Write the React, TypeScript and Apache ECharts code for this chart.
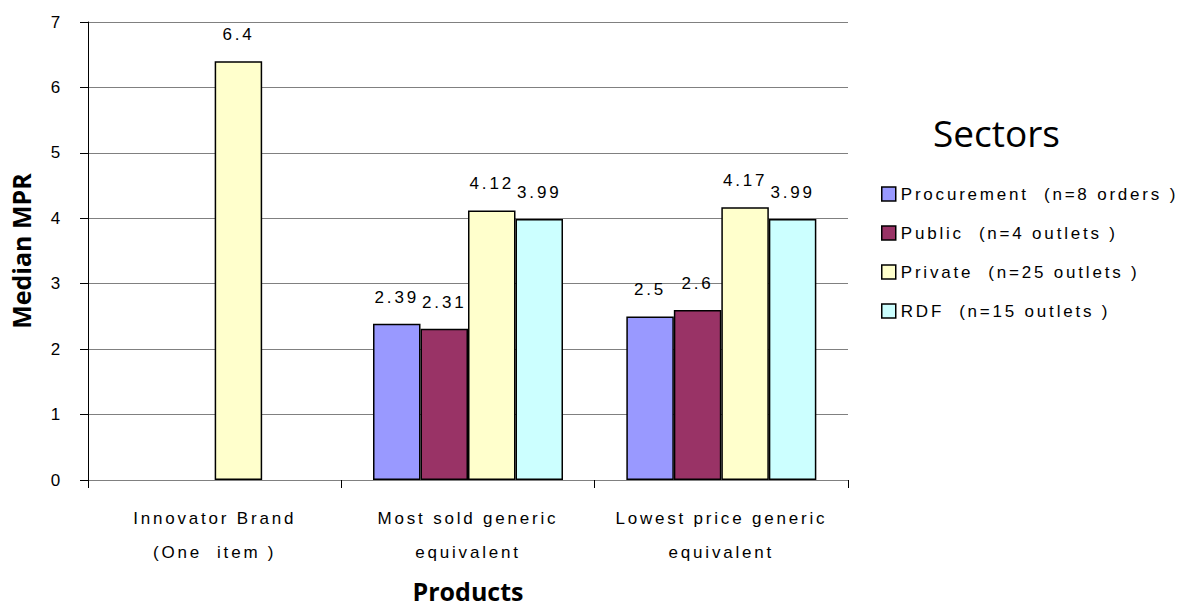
import React, { useEffect, useRef } from "react";
import * as echarts from "echarts";

// Product categories on the x axis
const categories: string[] = [
  "Innovator Brand\n(One  item )",
  "Most sold generic\nequivalent",
  "Lowest price generic\nequivalent",
];

// Median MPR per sector (null = no data for that product)
const procurement: (number | null)[] = [null, 2.39, 2.5];
const publicSector: (number | null)[] = [null, 2.31, 2.6];
const privateSector: (number | null)[] = [6.4, 4.12, 4.17];
const rdf: (number | null)[] = [null, 3.99, 3.99];

const seriesNames: string[] = [
  "Procurement  (n=8 orders )",
  "Public  (n=4 outlets )",
  "Private  (n=25 outlets )",
  "RDF  (n=15 outlets )",
];
const seriesColors: string[] = ["#9999FF", "#993366", "#FFFFCC", "#CCFFFF"];

const yTicks = { min: 0, max: 7, interval: 1 };

const BODY_FONT = "Liberation Sans";
const TITLE_FONT = "Open Sans";

export default function App() {
  const ref = useRef<HTMLDivElement>(null);

  useEffect(() => {
    if (!ref.current) return;
    const chart = echarts.init(ref.current, null, { renderer: "svg" });

    const values = [procurement, publicSector, privateSector, rdf];

    chart.setOption({
      animation: false,
      backgroundColor: "#ffffff",
      title: {
        text: "Sectors",
        left: 933,
        top: 114,
        padding: 0,
        textStyle: {
          fontFamily: TITLE_FONT,
          fontSize: 37,
          fontWeight: "normal",
          color: "#000",
        },
      },
      legend: {
        orient: "vertical",
        left: 876,
        top: 180,
        itemWidth: 14,
        itemHeight: 14,
        itemGap: 21,
        icon: "rect",
        itemStyle: { borderColor: "#000", borderWidth: 1.5 },
        textStyle: {
          fontFamily: BODY_FONT,
          fontSize: 17,
          lineHeight: 18,
          color: "#000",
        },
        data: seriesNames,
      },
      grid: {
        left: 88,
        right: 330,
        top: 22,
        bottom: 124,
        containLabel: false,
      },
      xAxis: {
        type: "category",
        data: categories,
        name: "Products",
        nameLocation: "middle",
        nameGap: 98,
        nameTextStyle: {
          fontFamily: TITLE_FONT,
          fontSize: 25,
          fontWeight: "bold",
          color: "#000",
        },
        axisLine: { show: true, lineStyle: { color: "#808080", width: 1 } },
        axisTick: { show: true, length: 8, lineStyle: { color: "#000" } },
        axisLabel: {
          interval: 0,
          margin: 21,
          fontFamily: BODY_FONT,
          fontSize: 17,
          lineHeight: 34,
          color: "#000",
        },
      },
      yAxis: {
        type: "value",
        min: yTicks.min,
        max: yTicks.max,
        interval: yTicks.interval,
        name: "Median MPR",
        nameLocation: "middle",
        nameGap: 55,
        nameTextStyle: {
          fontFamily: TITLE_FONT,
          fontSize: 25,
          fontWeight: "bold",
          color: "#000",
        },
        axisLine: { show: true, lineStyle: { color: "#000", width: 1 } },
        axisTick: { show: true, length: 8, lineStyle: { color: "#000" } },
        axisLabel: {
          margin: 25,
          fontFamily: BODY_FONT,
          fontSize: 17,
          color: "#000",
        },
        splitLine: { show: true, lineStyle: { color: "#808080", width: 1 } },
      },
      series: seriesNames.map((name, i) => ({
        name,
        type: "bar",
        data: values[i],
        barGap: "0%",
        barCategoryGap: "25%",
        itemStyle: {
          color: seriesColors[i],
          borderColor: "#000",
          borderWidth: 1.5,
        },
        label: {
          show: true,
          position: "top",
          distance: 18,
          fontFamily: BODY_FONT,
          fontSize: 17,
          color: "#000",
          formatter: "{c}",
        },
      })),
    });

    return () => {
      chart.dispose();
    };
  }, []);

  return (
    <>
      <style>{`
        #mpr-chart text { letter-spacing: 2.8px; }
        #mpr-chart text[style*="Open Sans"] { letter-spacing: 0; }
      `}</style>
      <div
        id="mpr-chart"
        ref={ref}
        style={{
          position: "absolute",
          left: 0,
          top: 0,
          width: 1178,
          height: 608,
        }}
      />
    </>
  );
}
